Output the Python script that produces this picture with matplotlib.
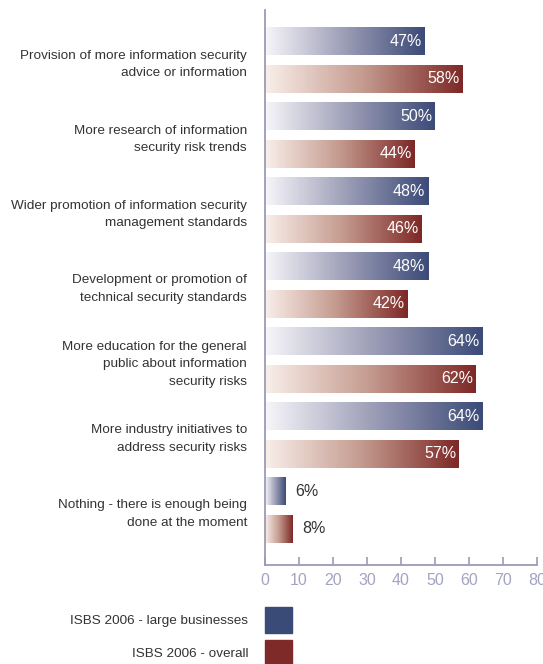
import numpy as np
import matplotlib
matplotlib.use("Agg")
import matplotlib.pyplot as plt
from matplotlib.colors import LinearSegmentedColormap
from matplotlib.patches import Rectangle
from matplotlib import font_manager

categories = [
    "Provision of more information security\nadvice or information",
    "More research of information\nsecurity risk trends",
    "Wider promotion of information security\nmanagement standards",
    "Development or promotion of\ntechnical security standards",
    "More education for the general\npublic about information\nsecurity risks",
    "More industry initiatives to\naddress security risks",
    "Nothing - there is enough being\ndone at the moment",
]
large_businesses = [47, 50, 48, 48, 64, 64, 6]
overall = [58, 44, 46, 42, 62, 57, 8]
series_names = ["ISBS 2006 - large businesses", "ISBS 2006 - overall"]
x_ticks = [0, 10, 20, 30, 40, 50, 60, 70, 80]

names = {f.name for f in font_manager.fontManager.ttflist}
FONT = "Liberation Sans Narrow" if "Liberation Sans Narrow" in names else "Liberation Sans"
plt.rcParams["font.family"] = [FONT, "DejaVu Sans"]

W, H = 543, 664
fig = plt.figure(figsize=(W / 100, H / 100), dpi=100)

x0, x1 = 265, 537
ytop, ybot = 10, 565
ax = fig.add_axes([x0 / W, (H - ybot) / H, (x1 - x0) / W, (ybot - ytop) / H])

blue_cmap = LinearSegmentedColormap.from_list("b", ["#f7f6fa", "#9c9db6", "#3b4a77"])
red_cmap = LinearSegmentedColormap.from_list("r", ["#f9efea", "#c49a8e", "#7d2826"])
grad = np.linspace(0, 1, 256).reshape(1, -1)

off = 0.253
bh = 0.373
n = len(categories)
for i in range(n):
    for val, yc, cmap in ((large_businesses[i], i - off, blue_cmap), (overall[i], i + off, red_cmap)):
        ax.imshow(grad, cmap=cmap, aspect="auto", interpolation="bilinear",
                  extent=(0, val, yc + bh / 2, yc - bh / 2), zorder=2)
        if val >= 15:
            ax.text(val - 0.8, yc, f"{val}%", ha="right", va="center",
                    color="white", fontsize=11.5, zorder=3)
        else:
            ax.text(val + 3.0, yc, f"{val}%", ha="left", va="center",
                    color="#333333", fontsize=11.5, zorder=3)

ax.set_xlim(0, 80)
ax.set_ylim((ybot - 60) / 75, (ytop - 60) / 75)
ax.set_yticks(range(n))
ax.set_yticklabels(categories, fontsize=9.7, color="#333333", linespacing=1.6)
ax.tick_params(axis="y", length=0, pad=13)
ax.set_xticks(x_ticks)
ax.set_xticklabels([str(t) for t in x_ticks], fontsize=11.5, color="#a3a3c2")
ax.tick_params(axis="x", direction="in", length=6, width=1.2, color="#9b9bb8", pad=6)
for s in ("top", "right"):
    ax.spines[s].set_visible(False)
for s in ("left", "bottom"):
    ax.spines[s].set_color("#9b9bb8")
    ax.spines[s].set_linewidth(1.3)
ax.patch.set_alpha(0)

# legend
swatch_cols = ["#3b4b77", "#7d2a28"]
for k, (name, col) in enumerate(zip(series_names, swatch_cols)):
    ytop_sw = 607 + k * 33
    fig.add_artist(Rectangle((x0 / W, (H - ytop_sw - 26) / H), 27 / W, 26 / H,
                             transform=fig.transFigure, color=col))
    fig.text(248 / W, (H - ytop_sw - 14) / H, name, ha="right", va="center",
             fontsize=9.7, color="#333333")

fig.savefig("out.png", dpi=100)
